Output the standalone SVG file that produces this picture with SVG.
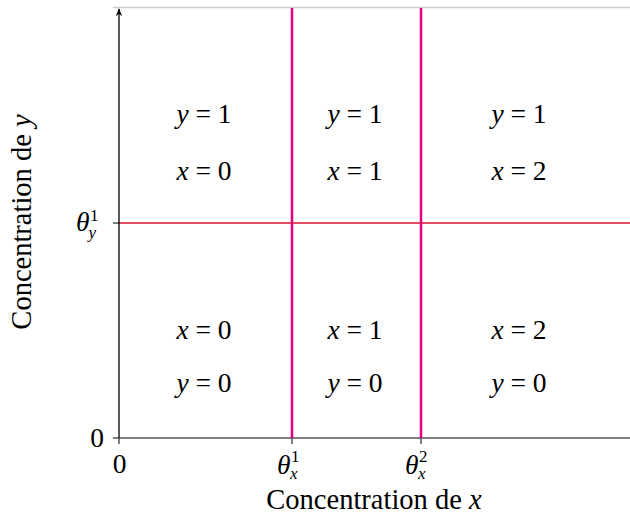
<svg xmlns="http://www.w3.org/2000/svg" width="630" height="516" viewBox="0 0 630 516">
<style>
text{font-family:"Liberation Serif","Times New Roman",serif;font-size:27.5px;fill:#000}
.L{font-size:28.5px}
.c{text-anchor:middle}
.i{font-style:italic}
.s{font-size:17px}
.ax{stroke:#555;stroke-width:1.5;fill:none}
.fr{stroke:#ccc;stroke-width:1.5;fill:none}
.v{stroke:#e6007e;stroke-width:2.5}
.h{stroke:#d9142b;stroke-width:1.5}
</style>
<defs>
<marker id="arr" viewBox="0 0 10 10" refX="9" refY="5" markerWidth="8" markerHeight="8" orient="auto" markerUnits="userSpaceOnUse">
<path d="M0,1 L10,5 L0,9 L3,5 Z" fill="#000"/>
</marker>
</defs>
<g id="connectors">
<line class="fr" x1="113" y1="7.5" x2="630" y2="7.5"/>
<line class="ax" x1="113" y1="438" x2="630" y2="438"/>
<line class="ax" x1="119" y1="438" x2="119" y2="444"/>
<line class="ax" x1="292" y1="438" x2="292" y2="444"/>
<line class="ax" x1="421" y1="438" x2="421" y2="444"/>
<line class="ax" x1="113" y1="223" x2="119" y2="223"/>
<line class="h" x1="119" y1="223" x2="630" y2="223"/>
<line class="v" x1="292" y1="8" x2="292" y2="438"/>
<line class="v" x1="421" y1="8" x2="421" y2="438"/>
<line x1="119" y1="438" x2="119" y2="9" stroke="#000" stroke-width="1.3" marker-end="url(#arr)"/>
</g>
<g id="axis-labels">
<text class="c L" x="374" y="509">Concentration de <tspan class="i">x</tspan></text>
<text class="c L" transform="translate(31,222) rotate(-90)">Concentration de <tspan class="i">y</tspan></text>
<text class="c" x="119.5" y="473">0</text>
<text class="c" x="97" y="447">0</text>
<g id="theta-y"><text class="i" x="76" y="231">θ</text><text class="s" x="90" y="221">1</text><text class="s i" x="88.5" y="238">y</text></g>
<g id="theta-x1"><text class="i" x="277" y="474">θ</text><text class="s" x="291" y="462">1</text><text class="s i" x="290" y="479">x</text></g>
<g id="theta-x2"><text class="i" x="405" y="474">θ</text><text class="s" x="419" y="462">2</text><text class="s i" x="418" y="479">x</text></g>
</g>
<g id="cell-00"><text class="c" x="204" y="123"><tspan class="i">y</tspan> = 1</text><text class="c" x="204" y="180"><tspan class="i">x</tspan> = 0</text></g>
<g id="cell-10"><text class="c" x="355" y="123"><tspan class="i">y</tspan> = 1</text><text class="c" x="355" y="180"><tspan class="i">x</tspan> = 1</text></g>
<g id="cell-20"><text class="c" x="519" y="123"><tspan class="i">y</tspan> = 1</text><text class="c" x="519" y="180"><tspan class="i">x</tspan> = 2</text></g>
<g id="cell-01"><text class="c" x="204" y="339"><tspan class="i">x</tspan> = 0</text><text class="c" x="204" y="392"><tspan class="i">y</tspan> = 0</text></g>
<g id="cell-11"><text class="c" x="355" y="339"><tspan class="i">x</tspan> = 1</text><text class="c" x="355" y="392"><tspan class="i">y</tspan> = 0</text></g>
<g id="cell-21"><text class="c" x="519" y="339"><tspan class="i">x</tspan> = 2</text><text class="c" x="519" y="392"><tspan class="i">y</tspan> = 0</text></g>
</svg>
